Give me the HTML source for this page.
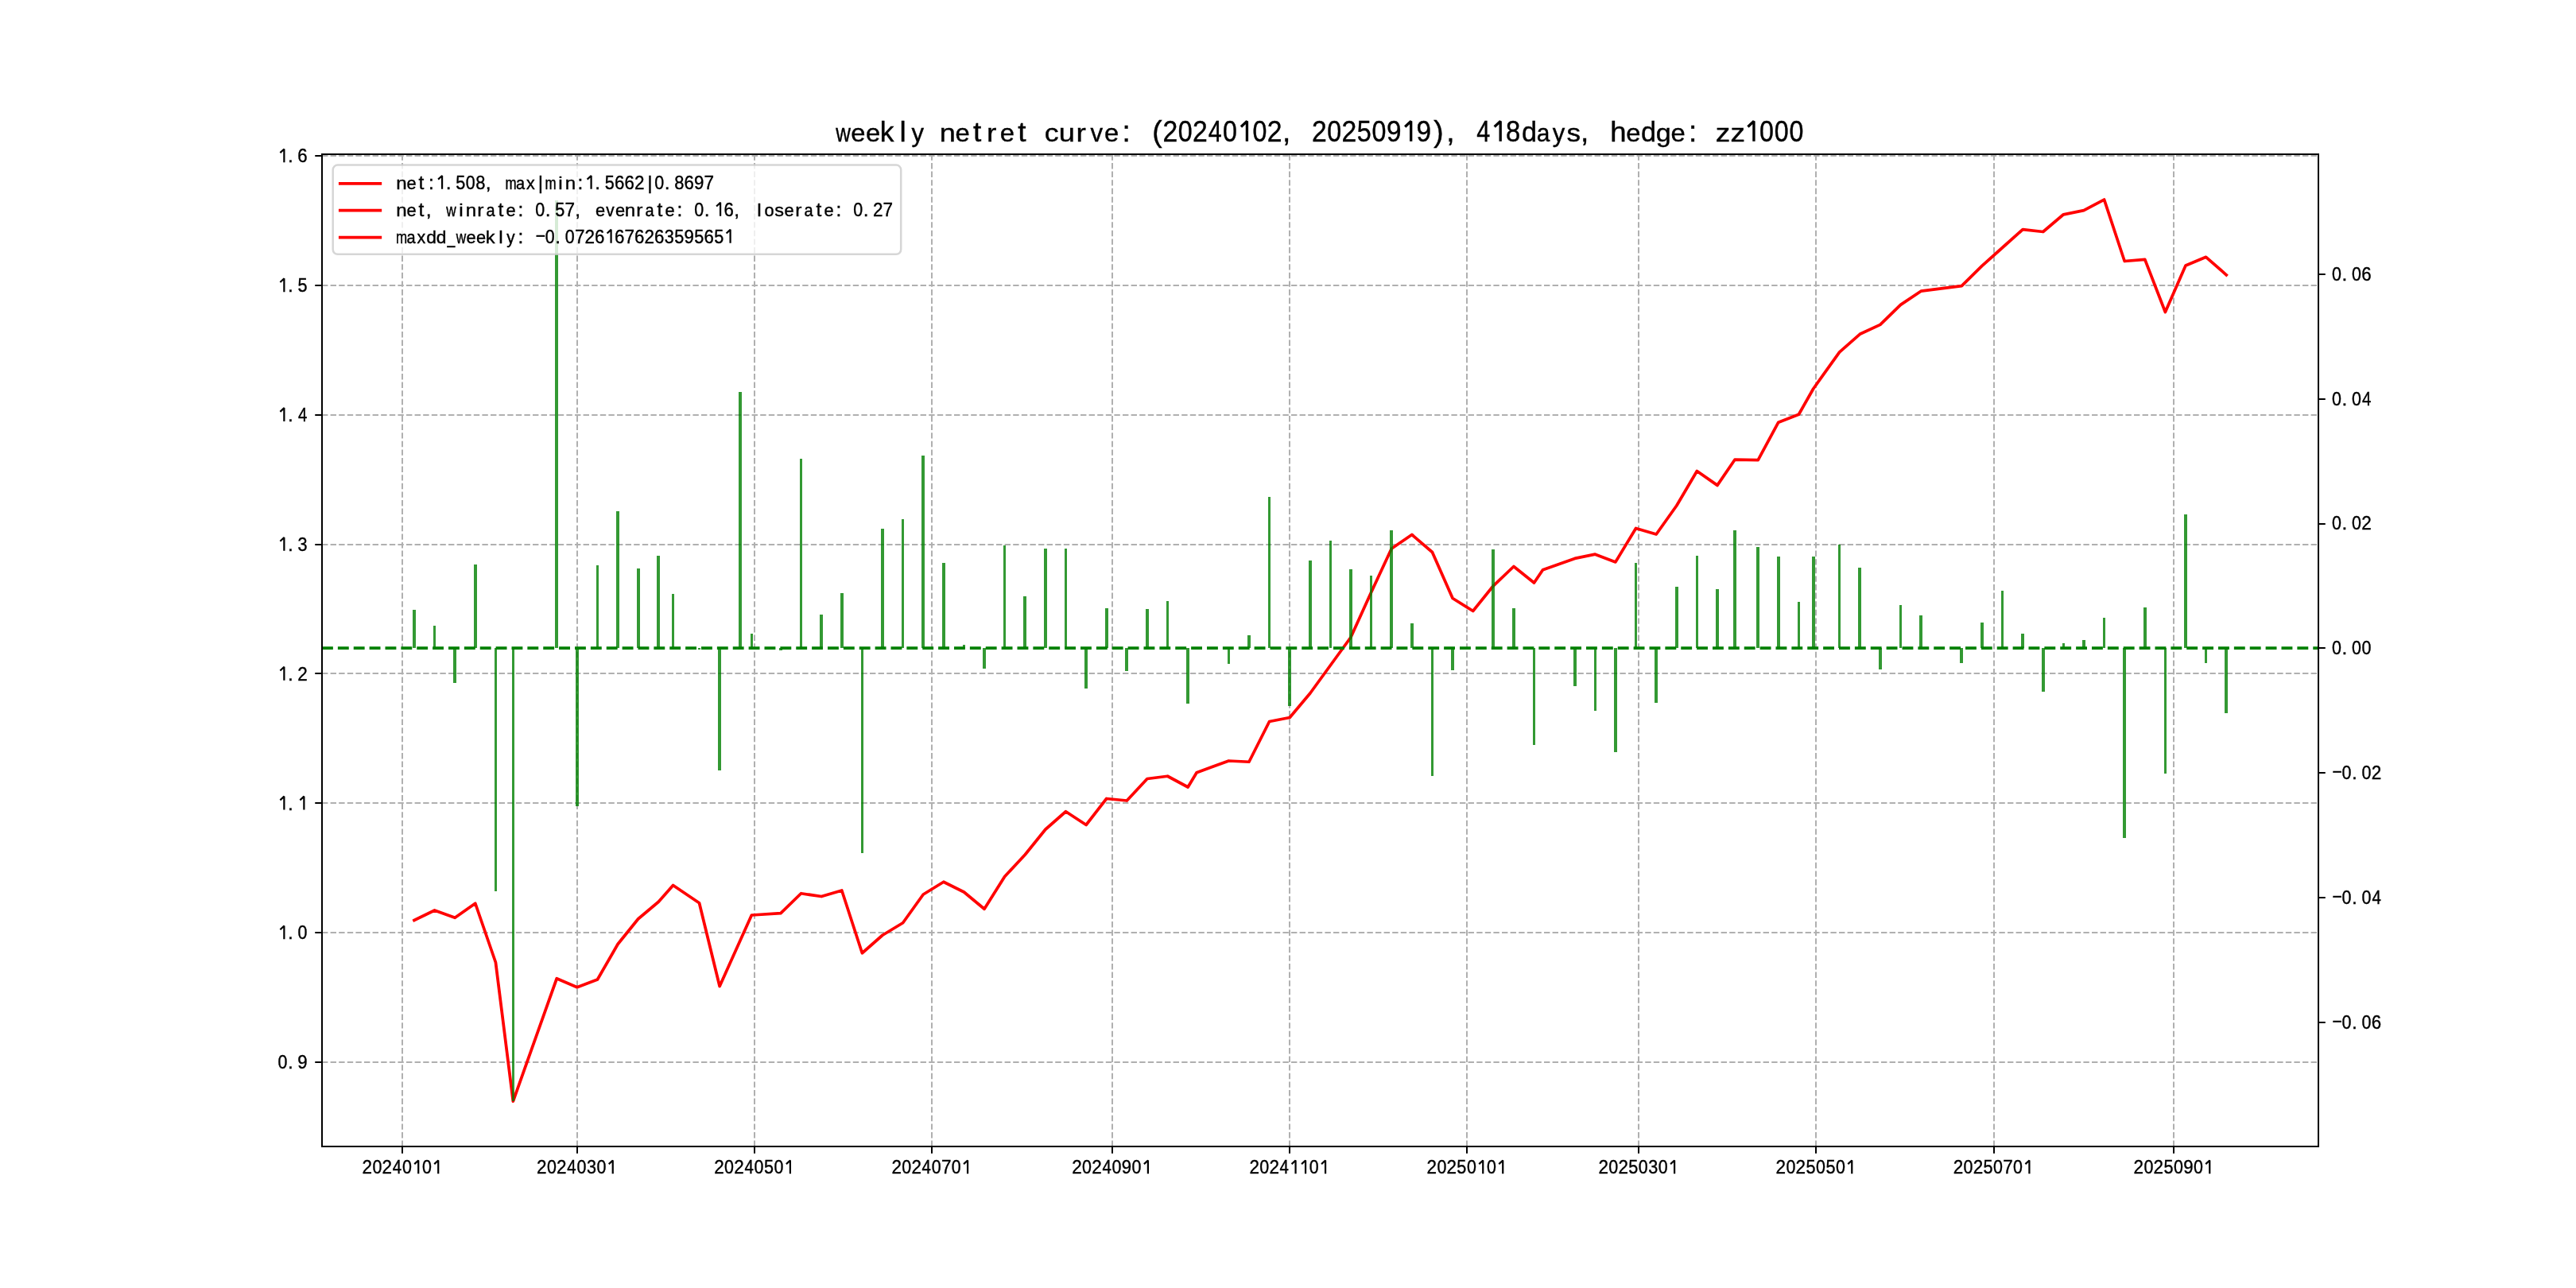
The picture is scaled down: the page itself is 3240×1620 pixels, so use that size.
<!DOCTYPE html><html><head><meta charset="utf-8"><title>weekly netret curve</title>
<style>html,body{margin:0;padding:0;background:#fff;overflow:hidden}svg{display:block;will-change:transform}text{font-family:"Liberation Sans",sans-serif;fill:#000;stroke:#000;stroke-width:0.4px;vector-effect:non-scaling-stroke}</style></head><body>
<svg width="3240" height="1620" viewBox="0 0 3240 1620">
<rect x="0" y="0" width="3240" height="1620" fill="#fff"/>
<path d="M405 196H2916M405 359H2916M405 522H2916M405 685H2916M405 847H2916M405 1010H2916M405 1173H2916M405 1336H2916" stroke="#b0b0b0" stroke-width="2" fill="none" stroke-dasharray="7.4 3.2"/>
<path d="M506 1442V194M726 1442V194M949 1442V194M1172 1442V194M1399 1442V194M1622 1442V194M1845 1442V194M2061 1442V194M2284 1442V194M2508 1442V194M2734 1442V194" stroke="#b0b0b0" stroke-width="2" fill="none" stroke-dasharray="7.4 3.2"/>
<polyline points="520.98,1157.50 546.59,1145.00 572.20,1154.25 597.81,1136.25 623.42,1210.50 645.37,1385.20 700.25,1230.75 725.86,1241.75 751.47,1232.00 777.08,1187.50 802.69,1155.75 828.30,1134.25 846.59,1113.50 879.52,1135.75 905.13,1240.50 930.74,1183.55 945.37,1151.00 981.96,1148.70 1007.56,1123.75 1033.17,1127.50 1058.78,1120.00 1084.39,1198.75 1110.00,1176.25 1135.61,1160.75 1161.22,1125.00 1186.83,1109.25 1212.44,1122.00 1238.05,1143.25 1263.66,1102.50 1289.27,1075.00 1314.88,1043.25 1340.49,1020.75 1366.10,1037.50 1391.71,1004.50 1417.32,1007.00 1442.93,979.50 1468.54,976.25 1494.14,990.00 1505.12,971.75 1545.36,957.00 1570.97,958.25 1596.58,907.50 1622.19,902.50 1647.80,872.00 1673.41,836.75 1699.02,801.50 1724.63,745.00 1750.24,690.00 1775.85,672.50 1801.46,694.50 1827.07,752.50 1852.68,768.50 1878.29,736.80 1903.90,712.50 1929.51,733.00 1940.48,716.80 1980.73,702.40 2006.34,697.20 2031.94,706.90 2057.55,664.50 2083.16,672.00 2108.77,636.00 2134.38,592.50 2159.99,610.40 2181.94,578.20 2211.21,578.70 2236.82,531.20 2262.43,521.20 2280.72,489.00 2313.65,442.80 2339.26,420.30 2364.87,408.40 2390.48,383.40 2416.09,366.20 2441.70,362.90 2467.31,359.60 2492.92,334.30 2518.53,311.50 2544.13,288.70 2569.74,291.50 2595.35,269.80 2620.96,264.70 2646.57,251.04 2672.18,328.50 2697.79,326.40 2723.40,392.50 2749.01,334.10 2774.62,323.30 2800.23,345.80" fill="none" stroke="#ff0000" stroke-width="3.75" stroke-linejoin="round" stroke-linecap="square"/>
<path d="M519 767H523V815H519ZM545 787H548V815H545ZM570 815H574V859H570ZM596 710H600V815H596ZM622 815H625V1121H622ZM644 815H647V1385H644ZM698 252H702V815H698ZM724 815H728V1014H724ZM750 711H753V815H750ZM775 643H779V815H775ZM801 715H805V815H801ZM826 699H830V815H826ZM845 747H848V815H845ZM878 815H881V817H878ZM903 815H907V969H903ZM929 493H933V815H929ZM944 797H947V815H944ZM980 815H984V818H980ZM1006 577H1009V815H1006ZM1031 773H1035V815H1031ZM1057 746H1061V815H1057ZM1083 815H1086V1073H1083ZM1108 665H1112V815H1108ZM1134 653H1137V815H1134ZM1159 573H1163V815H1159ZM1185 708H1189V815H1185ZM1211 811H1214V815H1211ZM1236 815H1240V841H1236ZM1262 686H1265V815H1262ZM1287 750H1291V815H1287ZM1313 690H1317V815H1313ZM1339 690H1342V815H1339ZM1364 815H1368V866H1364ZM1390 765H1394V815H1390ZM1415 815H1419V844H1415ZM1441 766H1445V815H1441ZM1467 756H1470V815H1467ZM1492 815H1496V885H1492ZM1544 815H1547V835H1544ZM1569 799H1573V815H1569ZM1595 625H1598V815H1595ZM1620 815H1624V888H1620ZM1646 705H1650V815H1646ZM1672 680H1675V815H1672ZM1697 716H1701V815H1697ZM1723 724H1726V815H1723ZM1748 667H1752V815H1748ZM1774 784H1778V815H1774ZM1800 815H1803V976H1800ZM1825 815H1829V843H1825ZM1876 691H1880V815H1876ZM1902 765H1906V815H1902ZM1928 815H1931V937H1928ZM1979 815H1983V863H1979ZM2005 815H2008V894H2005ZM2030 815H2034V946H2030ZM2056 708H2059V815H2056ZM2081 815H2085V884H2081ZM2107 738H2111V815H2107ZM2133 699H2136V815H2133ZM2158 741H2162V815H2158ZM2180 667H2184V815H2180ZM2209 688H2213V815H2209ZM2235 700H2239V815H2235ZM2261 757H2264V815H2261ZM2279 700H2283V815H2279ZM2312 685H2315V815H2312ZM2337 714H2341V815H2337ZM2363 815H2367V842H2363ZM2389 761H2392V815H2389ZM2414 774H2418V815H2414ZM2465 815H2469V834H2465ZM2491 783H2495V815H2491ZM2517 743H2520V815H2517ZM2542 797H2546V815H2542ZM2568 815H2572V870H2568ZM2594 809H2597V815H2594ZM2619 805H2623V815H2619ZM2645 777H2648V815H2645ZM2670 815H2674V1054H2670ZM2696 764H2700V815H2696ZM2722 815H2725V973H2722ZM2747 647H2751V815H2747ZM2773 815H2776V834H2773ZM2798 815H2802V897H2798Z" fill="#008000" fill-opacity="0.8"/>
<path d="M405 815H2916" stroke="#008000" stroke-width="3.75" fill="none" stroke-dasharray="13.875 6"/>
<path d="M405 1442V194M2916 1442V194M405 194H2916M405 1442H2916" stroke="#000" stroke-width="2" fill="none" stroke-linecap="square"/>
<path d="M396.25 196H405M396.25 359H405M396.25 522H405M396.25 685H405M396.25 847H405M396.25 1010H405M396.25 1173H405M396.25 1336H405M2916 345H2924.75M2916 502H2924.75M2916 659H2924.75M2916 815H2924.75M2916 972H2924.75M2916 1129H2924.75M2916 1286H2924.75M506 1442V1450.75M726 1442V1450.75M949 1442V1450.75M1172 1442V1450.75M1399 1442V1450.75M1622 1442V1450.75M1845 1442V1450.75M2061 1442V1450.75M2284 1442V1450.75M2508 1442V1450.75M2734 1442V1450.75" stroke="#000" stroke-width="2" fill="none"/>
<text transform="translate(455.59 1476.30) scale(0.918 1.000)" font-size="24.5">2</text>
<text transform="translate(468.39 1476.30) scale(0.875 1.000)" font-size="24.5">0</text>
<text transform="translate(480.59 1476.30) scale(0.918 1.000)" font-size="24.5">2</text>
<text transform="translate(493.76 1476.30) scale(0.830 1.000)" font-size="24.5">4</text>
<text transform="translate(505.89 1476.30) scale(0.875 1.000)" font-size="24.5">0</text>
<path d="M526.23 1476.30V1459.44L521.23 1464.16" fill="none" stroke="#000" stroke-width="2.21" stroke-linejoin="miter" stroke-miterlimit="2"/>
<text transform="translate(530.89 1476.30) scale(0.875 1.000)" font-size="24.5">0</text>
<path d="M551.23 1476.30V1459.44L546.23 1464.16" fill="none" stroke="#000" stroke-width="2.21" stroke-linejoin="miter" stroke-miterlimit="2"/>
<text transform="translate(675.10 1476.30) scale(0.918 1.000)" font-size="24.5">2</text>
<text transform="translate(687.90 1476.30) scale(0.875 1.000)" font-size="24.5">0</text>
<text transform="translate(700.10 1476.30) scale(0.918 1.000)" font-size="24.5">2</text>
<text transform="translate(713.27 1476.30) scale(0.830 1.000)" font-size="24.5">4</text>
<text transform="translate(725.40 1476.30) scale(0.875 1.000)" font-size="24.5">0</text>
<text transform="translate(737.91 1476.30) scale(0.882 1.000)" font-size="24.5">3</text>
<text transform="translate(750.40 1476.30) scale(0.875 1.000)" font-size="24.5">0</text>
<path d="M770.74 1476.30V1459.44L765.74 1464.16" fill="none" stroke="#000" stroke-width="2.21" stroke-linejoin="miter" stroke-miterlimit="2"/>
<text transform="translate(898.27 1476.30) scale(0.918 1.000)" font-size="24.5">2</text>
<text transform="translate(911.07 1476.30) scale(0.875 1.000)" font-size="24.5">0</text>
<text transform="translate(923.27 1476.30) scale(0.918 1.000)" font-size="24.5">2</text>
<text transform="translate(936.44 1476.30) scale(0.830 1.000)" font-size="24.5">4</text>
<text transform="translate(948.57 1476.30) scale(0.875 1.000)" font-size="24.5">0</text>
<text transform="translate(961.04 1476.30) scale(0.882 1.000)" font-size="24.5">5</text>
<text transform="translate(973.57 1476.30) scale(0.875 1.000)" font-size="24.5">0</text>
<path d="M993.90 1476.30V1459.44L988.90 1464.16" fill="none" stroke="#000" stroke-width="2.21" stroke-linejoin="miter" stroke-miterlimit="2"/>
<text transform="translate(1121.44 1476.30) scale(0.918 1.000)" font-size="24.5">2</text>
<text transform="translate(1134.23 1476.30) scale(0.875 1.000)" font-size="24.5">0</text>
<text transform="translate(1146.44 1476.30) scale(0.918 1.000)" font-size="24.5">2</text>
<text transform="translate(1159.61 1476.30) scale(0.830 1.000)" font-size="24.5">4</text>
<text transform="translate(1171.73 1476.30) scale(0.875 1.000)" font-size="24.5">0</text>
<text transform="translate(1183.92 1476.30) scale(0.920 1.000)" font-size="24.5">7</text>
<text transform="translate(1196.73 1476.30) scale(0.875 1.000)" font-size="24.5">0</text>
<path d="M1217.07 1476.30V1459.44L1212.07 1464.16" fill="none" stroke="#000" stroke-width="2.21" stroke-linejoin="miter" stroke-miterlimit="2"/>
<text transform="translate(1348.27 1476.30) scale(0.918 1.000)" font-size="24.5">2</text>
<text transform="translate(1361.06 1476.30) scale(0.875 1.000)" font-size="24.5">0</text>
<text transform="translate(1373.27 1476.30) scale(0.918 1.000)" font-size="24.5">2</text>
<text transform="translate(1386.43 1476.30) scale(0.830 1.000)" font-size="24.5">4</text>
<text transform="translate(1398.56 1476.30) scale(0.875 1.000)" font-size="24.5">0</text>
<text transform="translate(1410.86 1476.30) scale(0.906 1.000)" font-size="24.5">9</text>
<text transform="translate(1423.56 1476.30) scale(0.875 1.000)" font-size="24.5">0</text>
<path d="M1443.90 1476.30V1459.44L1438.90 1464.16" fill="none" stroke="#000" stroke-width="2.21" stroke-linejoin="miter" stroke-miterlimit="2"/>
<text transform="translate(1571.44 1476.30) scale(0.918 1.000)" font-size="24.5">2</text>
<text transform="translate(1584.23 1476.30) scale(0.875 1.000)" font-size="24.5">0</text>
<text transform="translate(1596.44 1476.30) scale(0.918 1.000)" font-size="24.5">2</text>
<text transform="translate(1609.60 1476.30) scale(0.830 1.000)" font-size="24.5">4</text>
<path d="M1629.57 1476.30V1459.44L1624.57 1464.16" fill="none" stroke="#000" stroke-width="2.21" stroke-linejoin="miter" stroke-miterlimit="2"/>
<path d="M1642.07 1476.30V1459.44L1637.07 1464.16" fill="none" stroke="#000" stroke-width="2.21" stroke-linejoin="miter" stroke-miterlimit="2"/>
<text transform="translate(1646.73 1476.30) scale(0.875 1.000)" font-size="24.5">0</text>
<path d="M1667.07 1476.30V1459.44L1662.07 1464.16" fill="none" stroke="#000" stroke-width="2.21" stroke-linejoin="miter" stroke-miterlimit="2"/>
<text transform="translate(1794.60 1476.30) scale(0.918 1.000)" font-size="24.5">2</text>
<text transform="translate(1807.40 1476.30) scale(0.875 1.000)" font-size="24.5">0</text>
<text transform="translate(1819.60 1476.30) scale(0.918 1.000)" font-size="24.5">2</text>
<text transform="translate(1832.37 1476.30) scale(0.882 1.000)" font-size="24.5">5</text>
<text transform="translate(1844.90 1476.30) scale(0.875 1.000)" font-size="24.5">0</text>
<path d="M1865.24 1476.30V1459.44L1860.24 1464.16" fill="none" stroke="#000" stroke-width="2.21" stroke-linejoin="miter" stroke-miterlimit="2"/>
<text transform="translate(1869.90 1476.30) scale(0.875 1.000)" font-size="24.5">0</text>
<path d="M1890.24 1476.30V1459.44L1885.24 1464.16" fill="none" stroke="#000" stroke-width="2.21" stroke-linejoin="miter" stroke-miterlimit="2"/>
<text transform="translate(2010.46 1476.30) scale(0.918 1.000)" font-size="24.5">2</text>
<text transform="translate(2023.25 1476.30) scale(0.875 1.000)" font-size="24.5">0</text>
<text transform="translate(2035.46 1476.30) scale(0.918 1.000)" font-size="24.5">2</text>
<text transform="translate(2048.22 1476.30) scale(0.882 1.000)" font-size="24.5">5</text>
<text transform="translate(2060.75 1476.30) scale(0.875 1.000)" font-size="24.5">0</text>
<text transform="translate(2073.26 1476.30) scale(0.882 1.000)" font-size="24.5">3</text>
<text transform="translate(2085.75 1476.30) scale(0.875 1.000)" font-size="24.5">0</text>
<path d="M2106.09 1476.30V1459.44L2101.09 1464.16" fill="none" stroke="#000" stroke-width="2.21" stroke-linejoin="miter" stroke-miterlimit="2"/>
<text transform="translate(2233.62 1476.30) scale(0.918 1.000)" font-size="24.5">2</text>
<text transform="translate(2246.42 1476.30) scale(0.875 1.000)" font-size="24.5">0</text>
<text transform="translate(2258.62 1476.30) scale(0.918 1.000)" font-size="24.5">2</text>
<text transform="translate(2271.39 1476.30) scale(0.882 1.000)" font-size="24.5">5</text>
<text transform="translate(2283.92 1476.30) scale(0.875 1.000)" font-size="24.5">0</text>
<text transform="translate(2296.39 1476.30) scale(0.882 1.000)" font-size="24.5">5</text>
<text transform="translate(2308.92 1476.30) scale(0.875 1.000)" font-size="24.5">0</text>
<path d="M2329.26 1476.30V1459.44L2324.26 1464.16" fill="none" stroke="#000" stroke-width="2.21" stroke-linejoin="miter" stroke-miterlimit="2"/>
<text transform="translate(2456.79 1476.30) scale(0.918 1.000)" font-size="24.5">2</text>
<text transform="translate(2469.59 1476.30) scale(0.875 1.000)" font-size="24.5">0</text>
<text transform="translate(2481.79 1476.30) scale(0.918 1.000)" font-size="24.5">2</text>
<text transform="translate(2494.56 1476.30) scale(0.882 1.000)" font-size="24.5">5</text>
<text transform="translate(2507.09 1476.30) scale(0.875 1.000)" font-size="24.5">0</text>
<text transform="translate(2519.27 1476.30) scale(0.920 1.000)" font-size="24.5">7</text>
<text transform="translate(2532.09 1476.30) scale(0.875 1.000)" font-size="24.5">0</text>
<path d="M2552.42 1476.30V1459.44L2547.42 1464.16" fill="none" stroke="#000" stroke-width="2.21" stroke-linejoin="miter" stroke-miterlimit="2"/>
<text transform="translate(2683.62 1476.30) scale(0.918 1.000)" font-size="24.5">2</text>
<text transform="translate(2696.41 1476.30) scale(0.875 1.000)" font-size="24.5">0</text>
<text transform="translate(2708.62 1476.30) scale(0.918 1.000)" font-size="24.5">2</text>
<text transform="translate(2721.39 1476.30) scale(0.882 1.000)" font-size="24.5">5</text>
<text transform="translate(2733.91 1476.30) scale(0.875 1.000)" font-size="24.5">0</text>
<text transform="translate(2746.21 1476.30) scale(0.906 1.000)" font-size="24.5">9</text>
<text transform="translate(2758.91 1476.30) scale(0.875 1.000)" font-size="24.5">0</text>
<path d="M2779.25 1476.30V1459.44L2774.25 1464.16" fill="none" stroke="#000" stroke-width="2.21" stroke-linejoin="miter" stroke-miterlimit="2"/>
<path d="M357.38 204.30V187.44L352.38 192.16" fill="none" stroke="#000" stroke-width="2.21" stroke-linejoin="miter" stroke-miterlimit="2"/>
<text x="362.10" y="204.30" font-size="24.5">.</text>
<text transform="translate(374.25 204.30) scale(0.907 1.000)" font-size="24.5">6</text>
<path d="M357.38 367.14V350.28L352.38 355.00" fill="none" stroke="#000" stroke-width="2.21" stroke-linejoin="miter" stroke-miterlimit="2"/>
<text x="362.10" y="367.14" font-size="24.5">.</text>
<text transform="translate(374.51 367.14) scale(0.882 1.000)" font-size="24.5">5</text>
<path d="M357.38 529.98V513.12L352.38 517.84" fill="none" stroke="#000" stroke-width="2.21" stroke-linejoin="miter" stroke-miterlimit="2"/>
<text x="362.10" y="529.98" font-size="24.5">.</text>
<text transform="translate(374.91 529.98) scale(0.830 1.000)" font-size="24.5">4</text>
<path d="M357.38 692.82V675.96L352.38 680.68" fill="none" stroke="#000" stroke-width="2.21" stroke-linejoin="miter" stroke-miterlimit="2"/>
<text x="362.10" y="692.82" font-size="24.5">.</text>
<text transform="translate(374.55 692.82) scale(0.882 1.000)" font-size="24.5">3</text>
<path d="M357.38 855.66V838.80L352.38 843.52" fill="none" stroke="#000" stroke-width="2.21" stroke-linejoin="miter" stroke-miterlimit="2"/>
<text x="362.10" y="855.66" font-size="24.5">.</text>
<text transform="translate(374.24 855.66) scale(0.918 1.000)" font-size="24.5">2</text>
<path d="M357.38 1018.50V1001.64L352.38 1006.36" fill="none" stroke="#000" stroke-width="2.21" stroke-linejoin="miter" stroke-miterlimit="2"/>
<text x="362.10" y="1018.50" font-size="24.5">.</text>
<path d="M382.38 1018.50V1001.64L377.38 1006.36" fill="none" stroke="#000" stroke-width="2.21" stroke-linejoin="miter" stroke-miterlimit="2"/>
<path d="M357.38 1181.34V1164.48L352.38 1169.20" fill="none" stroke="#000" stroke-width="2.21" stroke-linejoin="miter" stroke-miterlimit="2"/>
<text x="362.10" y="1181.34" font-size="24.5">.</text>
<text transform="translate(374.54 1181.34) scale(0.875 1.000)" font-size="24.5">0</text>
<text transform="translate(349.54 1344.18) scale(0.875 1.000)" font-size="24.5">0</text>
<text x="362.10" y="1344.18" font-size="24.5">.</text>
<text transform="translate(374.33 1344.18) scale(0.906 1.000)" font-size="24.5">9</text>
<text transform="translate(2933.04 352.80) scale(0.875 1.000)" font-size="24.5">0</text>
<text x="2945.60" y="352.80" font-size="24.5">.</text>
<text transform="translate(2958.04 352.80) scale(0.875 1.000)" font-size="24.5">0</text>
<text transform="translate(2970.25 352.80) scale(0.907 1.000)" font-size="24.5">6</text>
<text transform="translate(2933.04 509.60) scale(0.875 1.000)" font-size="24.5">0</text>
<text x="2945.60" y="509.60" font-size="24.5">.</text>
<text transform="translate(2958.04 509.60) scale(0.875 1.000)" font-size="24.5">0</text>
<text transform="translate(2970.91 509.60) scale(0.830 1.000)" font-size="24.5">4</text>
<text transform="translate(2933.04 666.40) scale(0.875 1.000)" font-size="24.5">0</text>
<text x="2945.60" y="666.40" font-size="24.5">.</text>
<text transform="translate(2958.04 666.40) scale(0.875 1.000)" font-size="24.5">0</text>
<text transform="translate(2970.24 666.40) scale(0.918 1.000)" font-size="24.5">2</text>
<text transform="translate(2933.04 823.20) scale(0.875 1.000)" font-size="24.5">0</text>
<text x="2945.60" y="823.20" font-size="24.5">.</text>
<text transform="translate(2958.04 823.20) scale(0.875 1.000)" font-size="24.5">0</text>
<text transform="translate(2970.54 823.20) scale(0.875 1.000)" font-size="24.5">0</text>
<text transform="translate(2933.58 979.26) scale(0.861 1.000)" font-size="24.5">−</text>
<text transform="translate(2945.54 980.00) scale(0.875 1.000)" font-size="24.5">0</text>
<text x="2958.10" y="980.00" font-size="24.5">.</text>
<text transform="translate(2970.54 980.00) scale(0.875 1.000)" font-size="24.5">0</text>
<text transform="translate(2982.74 980.00) scale(0.918 1.000)" font-size="24.5">2</text>
<text transform="translate(2933.58 1136.07) scale(0.861 1.000)" font-size="24.5">−</text>
<text transform="translate(2945.54 1136.80) scale(0.875 1.000)" font-size="24.5">0</text>
<text x="2958.10" y="1136.80" font-size="24.5">.</text>
<text transform="translate(2970.54 1136.80) scale(0.875 1.000)" font-size="24.5">0</text>
<text transform="translate(2983.41 1136.80) scale(0.830 1.000)" font-size="24.5">4</text>
<text transform="translate(2933.58 1292.87) scale(0.861 1.000)" font-size="24.5">−</text>
<text transform="translate(2945.54 1293.60) scale(0.875 1.000)" font-size="24.5">0</text>
<text x="2958.10" y="1293.60" font-size="24.5">.</text>
<text transform="translate(2970.54 1293.60) scale(0.875 1.000)" font-size="24.5">0</text>
<text transform="translate(2982.75 1293.60) scale(0.907 1.000)" font-size="24.5">6</text>
<text transform="translate(1051.16 177.85) scale(0.698 0.870)" font-size="37.0">w</text>
<text transform="translate(1070.17 177.85) scale(0.886 0.870)" font-size="37.0">e</text>
<text transform="translate(1088.92 177.85) scale(0.886 0.870)" font-size="37.0">e</text>
<text transform="translate(1106.68 177.85) scale(0.957 0.930)" font-size="37.0">k</text>
<text transform="translate(1131.38 177.85) scale(1.000 0.930)" font-size="37.0">l</text>
<text transform="translate(1146.49 177.85) scale(0.838 0.870)" font-size="37.0">y</text>
<text transform="translate(1181.66 177.85) scale(0.978 0.870)" font-size="37.0">n</text>
<text transform="translate(1201.42 177.85) scale(0.886 0.870)" font-size="37.0">e</text>
<text transform="translate(1223.97 177.85) scale(1.000 0.960)" font-size="37.0">t</text>
<text transform="translate(1240.92 177.85) scale(1.000 0.870)" font-size="37.0">r</text>
<text transform="translate(1257.67 177.85) scale(0.886 0.870)" font-size="37.0">e</text>
<text transform="translate(1280.22 177.85) scale(1.000 0.960)" font-size="37.0">t</text>
<text transform="translate(1313.80 177.85) scale(0.964 0.870)" font-size="37.0">c</text>
<text transform="translate(1331.71 177.85) scale(0.978 0.870)" font-size="37.0">u</text>
<text transform="translate(1353.42 177.85) scale(1.000 0.870)" font-size="37.0">r</text>
<text transform="translate(1371.46 177.85) scale(0.843 0.870)" font-size="37.0">v</text>
<text transform="translate(1388.92 177.85) scale(0.886 0.870)" font-size="37.0">e</text>
<text x="1411.61" y="177.85" font-size="37.0">:</text>
<text x="1449.30" y="177.85" font-size="37.0">(</text>
<text transform="translate(1462.49 177.85) scale(0.912 1.000)" font-size="37.0">2</text>
<text transform="translate(1481.68 177.85) scale(0.869 1.000)" font-size="37.0">0</text>
<text transform="translate(1499.99 177.85) scale(0.912 1.000)" font-size="37.0">2</text>
<text transform="translate(1519.74 177.85) scale(0.825 1.000)" font-size="37.0">4</text>
<text transform="translate(1537.93 177.85) scale(0.869 1.000)" font-size="37.0">0</text>
<path d="M1568.44 177.85V152.39L1560.94 159.52" fill="none" stroke="#000" stroke-width="3.33" stroke-linejoin="miter" stroke-miterlimit="2"/>
<text transform="translate(1575.43 177.85) scale(0.869 1.000)" font-size="37.0">0</text>
<text transform="translate(1593.74 177.85) scale(0.912 1.000)" font-size="37.0">2</text>
<text x="1612.99" y="177.85" font-size="37.0">,</text>
<text transform="translate(1649.99 177.85) scale(0.912 1.000)" font-size="37.0">2</text>
<text transform="translate(1669.18 177.85) scale(0.869 1.000)" font-size="37.0">0</text>
<text transform="translate(1687.49 177.85) scale(0.912 1.000)" font-size="37.0">2</text>
<text transform="translate(1706.64 177.85) scale(0.876 1.000)" font-size="37.0">5</text>
<text transform="translate(1725.43 177.85) scale(0.869 1.000)" font-size="37.0">0</text>
<text transform="translate(1743.88 177.85) scale(0.900 1.000)" font-size="37.0">9</text>
<path d="M1774.69 177.85V152.39L1767.19 159.52" fill="none" stroke="#000" stroke-width="3.33" stroke-linejoin="miter" stroke-miterlimit="2"/>
<text transform="translate(1781.38 177.85) scale(0.900 1.000)" font-size="37.0">9</text>
<text x="1803.13" y="177.85" font-size="37.0">)</text>
<text x="1819.24" y="177.85" font-size="37.0">,</text>
<text transform="translate(1857.24 177.85) scale(0.825 1.000)" font-size="37.0">4</text>
<path d="M1887.19 177.85V152.39L1879.69 159.52" fill="none" stroke="#000" stroke-width="3.33" stroke-linejoin="miter" stroke-miterlimit="2"/>
<text transform="translate(1894.01 177.85) scale(0.886 1.000)" font-size="37.0">8</text>
<text transform="translate(1913.88 177.85) scale(0.924 0.930)" font-size="37.0">d</text>
<text transform="translate(1932.79 177.85) scale(0.809 0.870)" font-size="37.0">a</text>
<text transform="translate(1952.74 177.85) scale(0.838 0.870)" font-size="37.0">y</text>
<text transform="translate(1970.58 177.85) scale(0.953 0.870)" font-size="37.0">s</text>
<text x="1987.99" y="177.85" font-size="37.0">,</text>
<text transform="translate(2025.29 177.85) scale(0.985 0.930)" font-size="37.0">h</text>
<text transform="translate(2045.17 177.85) scale(0.886 0.870)" font-size="37.0">e</text>
<text transform="translate(2063.88 177.85) scale(0.924 0.930)" font-size="37.0">d</text>
<text transform="translate(2082.63 177.85) scale(0.924 0.870)" font-size="37.0">g</text>
<text transform="translate(2101.42 177.85) scale(0.886 0.870)" font-size="37.0">e</text>
<text x="2124.11" y="177.85" font-size="37.0">:</text>
<text transform="translate(2157.67 177.85) scale(1.000 0.870)" font-size="37.0">z</text>
<text transform="translate(2176.42 177.85) scale(1.000 0.870)" font-size="37.0">z</text>
<path d="M2205.94 177.85V152.39L2198.44 159.52" fill="none" stroke="#000" stroke-width="3.33" stroke-linejoin="miter" stroke-miterlimit="2"/>
<text transform="translate(2212.93 177.85) scale(0.869 1.000)" font-size="37.0">0</text>
<text transform="translate(2231.68 177.85) scale(0.869 1.000)" font-size="37.0">0</text>
<text transform="translate(2250.43 177.85) scale(0.869 1.000)" font-size="37.0">0</text>
<rect x="418.7" y="207.6" width="714.50" height="112.20" rx="6" ry="6" fill="#fff" fill-opacity="0.8" stroke="#cccccc" stroke-opacity="0.8" stroke-width="2.5"/>
<path d="M427.8 230.80H478.3" stroke="#ff0000" stroke-width="3.75" stroke-linecap="square"/>
<text transform="translate(498.22 237.80) scale(0.985 0.870)" font-size="24.5">n</text>
<text transform="translate(511.40 237.80) scale(0.892 0.870)" font-size="24.5">e</text>
<text transform="translate(526.45 237.80) scale(1.000 0.960)" font-size="24.5">t</text>
<text x="539.05" y="237.80" font-size="24.5">:</text>
<path d="M556.08 237.80V220.94L551.08 225.66" fill="none" stroke="#000" stroke-width="2.21" stroke-linejoin="miter" stroke-miterlimit="2"/>
<text x="560.80" y="237.80" font-size="24.5">.</text>
<text transform="translate(573.21 237.80) scale(0.882 1.000)" font-size="24.5">5</text>
<text transform="translate(585.74 237.80) scale(0.875 1.000)" font-size="24.5">0</text>
<text transform="translate(598.13 237.80) scale(0.892 1.000)" font-size="24.5">8</text>
<text x="610.80" y="237.80" font-size="24.5">,</text>
<text transform="translate(635.39 237.80) scale(0.692 0.870)" font-size="24.5">m</text>
<text transform="translate(648.98 237.80) scale(0.814 0.870)" font-size="24.5">a</text>
<text transform="translate(662.08 237.80) scale(0.875 0.870)" font-size="24.5">x</text>
<text x="676.77" y="237.80" font-size="24.5">|</text>
<text transform="translate(685.39 237.80) scale(0.692 0.870)" font-size="24.5">m</text>
<text transform="translate(702.23 237.80) scale(1.000 0.930)" font-size="24.5">i</text>
<text transform="translate(710.72 237.80) scale(0.985 0.870)" font-size="24.5">n</text>
<text x="726.55" y="237.80" font-size="24.5">:</text>
<path d="M743.58 237.80V220.94L738.58 225.66" fill="none" stroke="#000" stroke-width="2.21" stroke-linejoin="miter" stroke-miterlimit="2"/>
<text x="748.30" y="237.80" font-size="24.5">.</text>
<text transform="translate(760.71 237.80) scale(0.882 1.000)" font-size="24.5">5</text>
<text transform="translate(772.95 237.80) scale(0.907 1.000)" font-size="24.5">6</text>
<text transform="translate(785.45 237.80) scale(0.907 1.000)" font-size="24.5">6</text>
<text transform="translate(797.94 237.80) scale(0.918 1.000)" font-size="24.5">2</text>
<text x="814.27" y="237.80" font-size="24.5">|</text>
<text transform="translate(823.24 237.80) scale(0.875 1.000)" font-size="24.5">0</text>
<text x="835.80" y="237.80" font-size="24.5">.</text>
<text transform="translate(848.13 237.80) scale(0.892 1.000)" font-size="24.5">8</text>
<text transform="translate(860.45 237.80) scale(0.907 1.000)" font-size="24.5">6</text>
<text transform="translate(873.03 237.80) scale(0.906 1.000)" font-size="24.5">9</text>
<text transform="translate(885.42 237.80) scale(0.920 1.000)" font-size="24.5">7</text>
<path d="M427.8 264.70H478.3" stroke="#ff0000" stroke-width="3.75" stroke-linecap="square"/>
<text transform="translate(498.22 271.70) scale(0.985 0.870)" font-size="24.5">n</text>
<text transform="translate(511.40 271.70) scale(0.892 0.870)" font-size="24.5">e</text>
<text transform="translate(526.45 271.70) scale(1.000 0.960)" font-size="24.5">t</text>
<text x="535.80" y="271.70" font-size="24.5">,</text>
<text transform="translate(561.23 271.70) scale(0.703 0.870)" font-size="24.5">w</text>
<text transform="translate(577.23 271.70) scale(1.000 0.930)" font-size="24.5">i</text>
<text transform="translate(585.72 271.70) scale(0.985 0.870)" font-size="24.5">n</text>
<text transform="translate(600.26 271.70) scale(1.000 0.870)" font-size="24.5">r</text>
<text transform="translate(611.48 271.70) scale(0.814 0.870)" font-size="24.5">a</text>
<text transform="translate(626.45 271.70) scale(1.000 0.960)" font-size="24.5">t</text>
<text transform="translate(636.40 271.70) scale(0.892 0.870)" font-size="24.5">e</text>
<text x="651.55" y="271.70" font-size="24.5">:</text>
<text transform="translate(673.24 271.70) scale(0.875 1.000)" font-size="24.5">0</text>
<text x="685.80" y="271.70" font-size="24.5">.</text>
<text transform="translate(698.21 271.70) scale(0.882 1.000)" font-size="24.5">5</text>
<text transform="translate(710.42 271.70) scale(0.920 1.000)" font-size="24.5">7</text>
<text x="723.30" y="271.70" font-size="24.5">,</text>
<text transform="translate(748.90 271.70) scale(0.892 0.870)" font-size="24.5">e</text>
<text transform="translate(762.25 271.70) scale(0.848 0.870)" font-size="24.5">v</text>
<text transform="translate(773.90 271.70) scale(0.892 0.870)" font-size="24.5">e</text>
<text transform="translate(785.72 271.70) scale(0.985 0.870)" font-size="24.5">n</text>
<text transform="translate(800.26 271.70) scale(1.000 0.870)" font-size="24.5">r</text>
<text transform="translate(811.48 271.70) scale(0.814 0.870)" font-size="24.5">a</text>
<text transform="translate(826.45 271.70) scale(1.000 0.960)" font-size="24.5">t</text>
<text transform="translate(836.40 271.70) scale(0.892 0.870)" font-size="24.5">e</text>
<text x="851.55" y="271.70" font-size="24.5">:</text>
<text transform="translate(873.24 271.70) scale(0.875 1.000)" font-size="24.5">0</text>
<text x="885.80" y="271.70" font-size="24.5">.</text>
<path d="M906.08 271.70V254.84L901.08 259.56" fill="none" stroke="#000" stroke-width="2.21" stroke-linejoin="miter" stroke-miterlimit="2"/>
<text transform="translate(910.45 271.70) scale(0.907 1.000)" font-size="24.5">6</text>
<text x="923.30" y="271.70" font-size="24.5">,</text>
<text transform="translate(952.22 271.70) scale(1.000 0.930)" font-size="24.5">l</text>
<text transform="translate(961.41 271.70) scale(0.886 0.870)" font-size="24.5">o</text>
<text transform="translate(974.17 271.70) scale(0.959 0.870)" font-size="24.5">s</text>
<text transform="translate(986.40 271.70) scale(0.892 0.870)" font-size="24.5">e</text>
<text transform="translate(1000.26 271.70) scale(1.000 0.870)" font-size="24.5">r</text>
<text transform="translate(1011.48 271.70) scale(0.814 0.870)" font-size="24.5">a</text>
<text transform="translate(1026.45 271.70) scale(1.000 0.960)" font-size="24.5">t</text>
<text transform="translate(1036.40 271.70) scale(0.892 0.870)" font-size="24.5">e</text>
<text x="1051.55" y="271.70" font-size="24.5">:</text>
<text transform="translate(1073.24 271.70) scale(0.875 1.000)" font-size="24.5">0</text>
<text x="1085.80" y="271.70" font-size="24.5">.</text>
<text transform="translate(1097.94 271.70) scale(0.918 1.000)" font-size="24.5">2</text>
<text transform="translate(1110.42 271.70) scale(0.920 1.000)" font-size="24.5">7</text>
<path d="M427.8 298.70H478.3" stroke="#ff0000" stroke-width="3.75" stroke-linecap="square"/>
<text transform="translate(497.89 305.70) scale(0.692 0.870)" font-size="24.5">m</text>
<text transform="translate(511.48 305.70) scale(0.814 0.870)" font-size="24.5">a</text>
<text transform="translate(524.58 305.70) scale(0.875 0.870)" font-size="24.5">x</text>
<text transform="translate(536.37 305.70) scale(0.930 0.930)" font-size="24.5">d</text>
<text transform="translate(548.87 305.70) scale(0.930 0.930)" font-size="24.5">d</text>
<text transform="translate(562.59 305.70) scale(0.718 1.000)" font-size="24.5">_</text>
<text transform="translate(573.73 305.70) scale(0.703 0.870)" font-size="24.5">w</text>
<text transform="translate(586.40 305.70) scale(0.892 0.870)" font-size="24.5">e</text>
<text transform="translate(598.90 305.70) scale(0.892 0.870)" font-size="24.5">e</text>
<text transform="translate(610.73 305.70) scale(0.964 0.930)" font-size="24.5">k</text>
<text transform="translate(627.22 305.70) scale(1.000 0.930)" font-size="24.5">l</text>
<text transform="translate(637.27 305.70) scale(0.844 0.870)" font-size="24.5">y</text>
<text x="651.55" y="305.70" font-size="24.5">:</text>
<text transform="translate(673.78 304.96) scale(0.861 1.000)" font-size="24.5">−</text>
<text transform="translate(685.74 305.70) scale(0.875 1.000)" font-size="24.5">0</text>
<text x="698.30" y="305.70" font-size="24.5">.</text>
<text transform="translate(710.74 305.70) scale(0.875 1.000)" font-size="24.5">0</text>
<text transform="translate(722.92 305.70) scale(0.920 1.000)" font-size="24.5">7</text>
<text transform="translate(735.44 305.70) scale(0.918 1.000)" font-size="24.5">2</text>
<text transform="translate(747.95 305.70) scale(0.907 1.000)" font-size="24.5">6</text>
<path d="M768.58 305.70V288.84L763.58 293.56" fill="none" stroke="#000" stroke-width="2.21" stroke-linejoin="miter" stroke-miterlimit="2"/>
<text transform="translate(772.95 305.70) scale(0.907 1.000)" font-size="24.5">6</text>
<text transform="translate(785.42 305.70) scale(0.920 1.000)" font-size="24.5">7</text>
<text transform="translate(797.95 305.70) scale(0.907 1.000)" font-size="24.5">6</text>
<text transform="translate(810.44 305.70) scale(0.918 1.000)" font-size="24.5">2</text>
<text transform="translate(822.95 305.70) scale(0.907 1.000)" font-size="24.5">6</text>
<text transform="translate(835.75 305.70) scale(0.882 1.000)" font-size="24.5">3</text>
<text transform="translate(848.21 305.70) scale(0.882 1.000)" font-size="24.5">5</text>
<text transform="translate(860.53 305.70) scale(0.906 1.000)" font-size="24.5">9</text>
<text transform="translate(873.21 305.70) scale(0.882 1.000)" font-size="24.5">5</text>
<text transform="translate(885.45 305.70) scale(0.907 1.000)" font-size="24.5">6</text>
<text transform="translate(898.21 305.70) scale(0.882 1.000)" font-size="24.5">5</text>
<path d="M918.58 305.70V288.84L913.58 293.56" fill="none" stroke="#000" stroke-width="2.21" stroke-linejoin="miter" stroke-miterlimit="2"/>
</svg></body></html>
